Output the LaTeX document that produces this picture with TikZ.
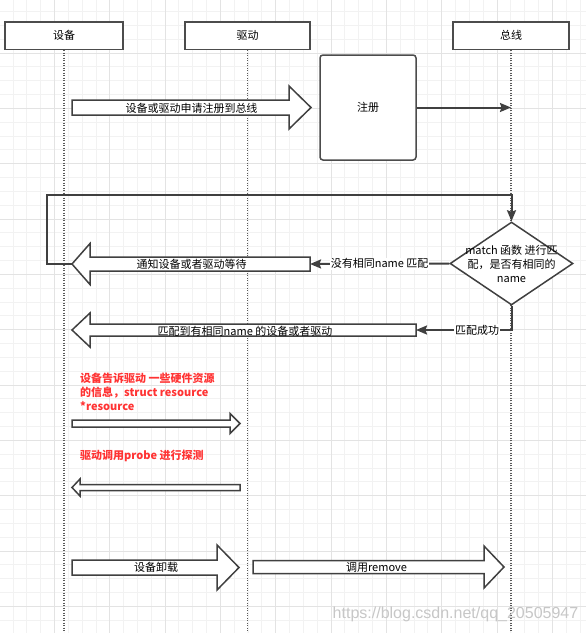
\documentclass[tikz,border=0pt]{standalone}
\usepackage{fontspec}
\setmainfont{Noto Sans CJK SC}
\newfontfamily\wmfont{Liberation Sans}
\usetikzlibrary{arrows.meta,shapes.geometric}
\definecolor{gridminor}{HTML}{F2F2F2}
\definecolor{gridmajor}{HTML}{E3E3E3}
\definecolor{linegray}{HTML}{404040}
\definecolor{notered}{HTML}{FF3333}
\begin{document}
\begin{tikzpicture}[x=1pt,y=-1pt,
    hdr/.style={draw=black!70, line width=1.5pt, fill=white, minimum height=27.5pt, inner sep=0pt},
    lifeln/.style={draw=black!65, line width=1.2pt, dash pattern=on 1.2pt off 1.3pt},
    blkarr/.style={draw=black!75, line width=1.5pt, fill=white, line join=miter},
    conn/.style={draw=linegray, line width=2pt, -{Stealth[length=11pt,width=9pt,inset=1.5pt]}},
    note/.style={text=notered, font=\fontsize{11}{14}\selectfont\bfseries, align=left, anchor=west, inner sep=0pt},
    every node/.style={font=\fontsize{11}{14}\selectfont}]
    \useasboundingbox (0,0) rectangle (586,633);
    \fill[white] (0,0) rectangle (586,633);
    % Grid
    \foreach \k in {0,...,43}
        \draw[gridminor, line width=1pt] ({-0.8+\k*13.83},0) -- ({-0.8+\k*13.83},633);
    \foreach \k in {0,...,46}
        \draw[gridminor, line width=1pt] (0,{-2.2+\k*13.83}) -- (586,{-2.2+\k*13.83});
    \foreach \k in {0,4,...,40}
        \draw[gridmajor, line width=1pt] ({-0.8+\k*13.83},0) -- ({-0.8+\k*13.83},633);
    \foreach \k in {0,4,...,44}
        \draw[gridmajor, line width=1pt] (0,{-2.2+\k*13.83}) -- (586,{-2.2+\k*13.83});
    % Lifelines
    \node[hdr, minimum width=118pt] (dev) at (64,35.5) {设备};
    \node[hdr, minimum width=125pt] (drv) at (247.5,35.5) {驱动};
    \node[hdr, minimum width=116pt] (bus) at (511,35.5) {总线};
    \draw[lifeln] (dev.south) -- ++(0,584);
    \draw[lifeln] (drv.south) -- ++(0,584);
    \draw[lifeln] (bus.south) -- ++(0,584);
    % Register
    \draw[blkarr] (72,100) -- (289,100) -- (289,86) -- (311,107.5) -- (289,129) -- (289,115) -- (72,115) -- cycle;
    \node (regreq) at (191.5,108) {设备或驱动申请注册到总线};
    \node[draw=black!70, line width=1.5pt, fill=white, rounded corners=3pt, minimum width=96pt, minimum height=105pt] (reg) at (368,107.5) {注册};
    \coordinate (busreg) at (bus.south |- reg.east);
    \draw[conn] (reg.east) -- (busreg);
    % Match
    \node[diamond, draw=black!75, line width=1.5pt, fill=white, minimum width=123pt, minimum height=83pt, inner sep=0pt] (match) at (511.5,263.5) {};
    \node[align=center, inner sep=0pt] (matchtxt) at (match) {match 函数 进行匹\\配，是否有相同的\\name};
    \draw[blkarr] (310,257) -- (90,257) -- (90,243.5) -- (72,264) -- (90,284.5) -- (90,271) -- (310,271) -- cycle;
    \node (wait) at (191.5,264) {通知设备或者驱动等待};
    \coordinate (waitend) at (310,264);
    \coordinate (waittip) at (72,264);
    \draw[conn] (waittip) -| ++(-25,-69) -| (match.north);
    \draw[conn] (match.west) -- (waitend) node[midway, fill=white, inner sep=1pt] {没有相同name 匹配};
    \draw[blkarr] (416,324) -- (90,324) -- (90,313) -- (72,330) -- (90,347) -- (90,336) -- (416,336) -- cycle;
    \node (found) at (245,331) {匹配到有相同name 的设备或者驱动};
    \coordinate (okend) at (416,330);
    \draw[conn] (match.south) |- (okend) node[pos=0.68, fill=white, inner sep=1pt] {匹配成功};
    % Resource and probe
    \node[note] (tell) at (80,391.5) {设备告诉驱动 一些硬件资源\\的信息，struct resource\\*resource};
    \draw[blkarr] (72,420) -- (230,420) -- (230,413.5) -- (240,423.5) -- (230,433.5) -- (230,427) -- (72,427) -- cycle;
    \node[note] (probe) at (80,456) {驱动调用probe 进行探测};
    \draw[blkarr] (240,484.5) -- (80,484.5) -- (80,479) -- (72,487.5) -- (80,496) -- (80,490.5) -- (240,490.5) -- cycle;
    % Remove
    \draw[blkarr] (72,560) -- (217,560) -- (217,545) -- (239,567.5) -- (217,590) -- (217,575) -- (72,575) -- cycle;
    \node (unload) at (156,567) {设备卸载};
    \draw[blkarr] (253,560.5) -- (484,560.5) -- (484,546) -- (504,567) -- (484,588) -- (484,573.5) -- (253,573.5) -- cycle;
    \node (remove) at (376.5,567) {调用remove};
    \node[text=black!22, font=\wmfont\fontsize{16}{18}\selectfont] (wm) at (455.5,614) {https://blog.csdn.net/qq\_20505947};
\end{tikzpicture}
\end{document}
